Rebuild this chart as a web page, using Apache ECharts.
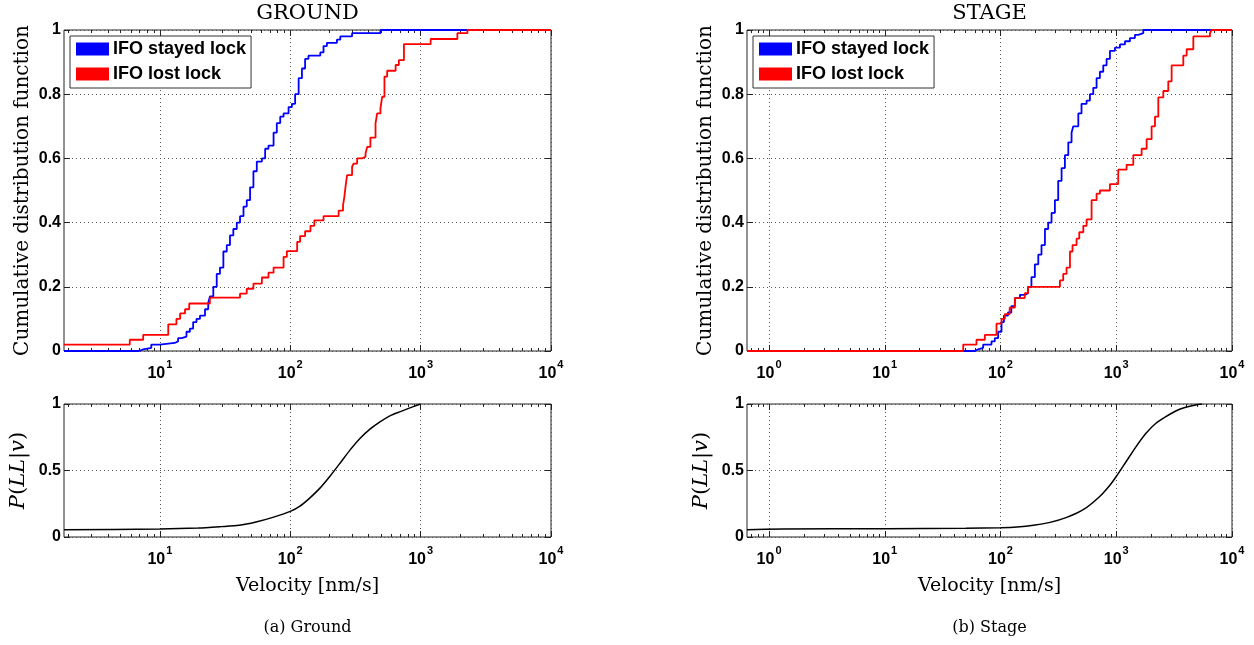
<!DOCTYPE html>
<html>
<head>
<meta charset="utf-8">
<script src="https://cdn.jsdelivr.net/npm/echarts@6/dist/echarts.min.js"></script>
<style>
html,body{margin:0;padding:0;background:#fff;}
#c{width:1254px;height:645px;}
</style>
</head>
<body>
<div id="c"></div>
<script>
// ---------------- data ----------------
const groundStayV = [6.9, 7.45, 8.6, 10, 13, 13.8, 14.7, 16, 17, 18, 19.1, 20.3, 22.2, 23.5, 24.2, 25.7, 27.3, 28.9, 30.7, 32.6, 34.5, 36.6, 38.9, 41.2, 43.8, 46.4, 49.2, 52.2, 55.4, 60.6, 64.2, 68.1, 74.5, 78.9, 83.8, 88.9, 97.1, 103, 109, 116, 123, 130, 138, 170, 180, 191, 228, 242, 298, 492];
const groundStayP = [0.005, 0.01, 0.02, 0.025, 0.03, 0.04, 0.045, 0.06, 0.07, 0.09, 0.10, 0.11, 0.13, 0.15, 0.17, 0.20, 0.24, 0.26, 0.31, 0.33, 0.36, 0.38, 0.40, 0.42, 0.45, 0.47, 0.51, 0.56, 0.59, 0.60, 0.63, 0.64, 0.68, 0.71, 0.73, 0.74, 0.76, 0.77, 0.80, 0.85, 0.88, 0.91, 0.92, 0.93, 0.95, 0.96, 0.97, 0.98, 0.99, 1.0];

const groundLostStart = 0.02;
const groundLostV = [5.88, 7.45, 11.6, 13.4, 14.3, 15.6, 16.8, 24.2, 41.2, 46.4, 52.2, 60.6, 68.1, 74.5, 88.9, 94.2, 113, 119, 130, 143, 153, 180, 235, 254, 260, 267, 273, 298, 307, 326, 356, 378, 389, 412, 451, 464, 492, 507, 528, 554, 643, 681, 745, 1194, 1914, 2286];
const groundLostP = [0.035, 0.05, 0.083, 0.10, 0.117, 0.13, 0.148, 0.166, 0.179, 0.194, 0.21, 0.229, 0.244, 0.26, 0.293, 0.311, 0.34, 0.358, 0.373, 0.39, 0.407, 0.42, 0.437, 0.454, 0.48, 0.52, 0.548, 0.574, 0.584, 0.60, 0.605, 0.615, 0.636, 0.665, 0.709, 0.74, 0.756, 0.792, 0.855, 0.873, 0.891, 0.906, 0.956, 0.972, 0.99, 1.0];

const stageStayV = [60, 64, 70.8, 83.6, 89.3, 95.4, 102, 107, 116, 124, 133, 147, 162, 173, 185, 198, 212, 226, 242, 258, 276, 295, 315, 337, 360, 385, 411, 425, 470, 501, 554, 592, 633, 676, 722, 772, 825, 882, 974, 1076, 1189, 1313, 1450, 1549, 1711];
const stageStayP = [0.005, 0.01, 0.02, 0.03, 0.04, 0.06, 0.09, 0.11, 0.12, 0.14, 0.165, 0.175, 0.18, 0.2, 0.23, 0.27, 0.3, 0.33, 0.38, 0.4, 0.43, 0.47, 0.53, 0.57, 0.61, 0.65, 0.68, 0.70, 0.74, 0.77, 0.78, 0.80, 0.82, 0.85, 0.87, 0.89, 0.91, 0.935, 0.945, 0.955, 0.965, 0.975, 0.985, 0.99, 1.0];

const stageLostV = [47.6, 62, 73.2, 92.3, 102, 109, 120, 133, 162, 173, 326, 348, 372, 398, 419, 454, 479, 519, 554, 612, 676, 722, 882, 1040, 1228, 1403, 1656, 1830, 2020, 2160, 2308, 2549, 2815, 3009, 3795, 4056, 4632, 6451, 6670];
const stageLostP = [0.02, 0.035, 0.05, 0.085, 0.1, 0.115, 0.135, 0.165, 0.18, 0.2, 0.22, 0.24, 0.26, 0.31, 0.33, 0.35, 0.37, 0.39, 0.41, 0.47, 0.49, 0.50, 0.52, 0.565, 0.58, 0.61, 0.63, 0.66, 0.70, 0.73, 0.79, 0.81, 0.84, 0.89, 0.92, 0.94, 0.98, 0.99, 1.0];

const groundPV = [1.84, 10, 19.7, 29.6, 40.5, 54.6, 73.5, 100, 118, 141, 169, 201, 241, 288, 344, 411, 491, 586, 700, 837, 1000];
const groundPP = [0.055, 0.06, 0.0675, 0.078, 0.0875, 0.1125, 0.1475, 0.1925, 0.23, 0.2925, 0.3675, 0.455, 0.555, 0.655, 0.7425, 0.8125, 0.8675, 0.9125, 0.9425, 0.9725, 1.0];

const stagePV = [0.645, 1.31, 10, 50, 100, 139, 193, 268, 373, 518, 720, 877, 1000, 1218, 1484, 1807, 2202, 2683, 3268, 3981, 4850, 5530];
const stagePP = [0.055, 0.06, 0.062, 0.066, 0.07, 0.075, 0.0875, 0.11, 0.1475, 0.205, 0.305, 0.3875, 0.455, 0.5675, 0.68, 0.78, 0.855, 0.905, 0.9475, 0.975, 0.9925, 1.0];

const groundDecades = [10, 100, 1000, 10000];
const stageDecades = [1, 10, 100, 1000, 10000];
const cdfYTicks = [0, 0.2, 0.4, 0.6, 0.8, 1];
const pYTicks = [0, 0.5, 1];

const seriesNames = ['IFO stayed lock', 'IFO lost lock'];
const titles = ['GROUND', 'STAGE'];
const captions = ['(a) Ground', '(b) Stage'];
const xName = 'Velocity [nm/s]';
const cdfName = 'Cumulative distribution function';

// ---------------- layout / style ----------------
const groundMin = 1.84, stageMin = 0.645, xMax = 10000;
const SERIF = '"DejaVu Serif", "Liberation Serif", serif';
const SANS = '"Liberation Sans", Arial, sans-serif';
const AX = '#222';

const grids = [
  {left: 64, top: 30, width: 487, height: 321},
  {left: 747, top: 30, width: 485, height: 321},
  {left: 64, top: 404, width: 487, height: 133},
  {left: 747, top: 404, width: 485, height: 133}
];
grids.forEach(g => { g.show = true; g.borderColor = AX; g.borderWidth = 1; g.backgroundColor = '#fff'; });

function minorTicks(min, max) {
  const out = [];
  for (let d = Math.floor(Math.log10(min)); d <= 4; d++) {
    for (let k = 2; k <= 9; k++) {
      const v = k * Math.pow(10, d);
      if (v > min && v < max) out.push(v);
    }
  }
  return out;
}

const labelRich = {
  b: {fontFamily: SANS, fontWeight: 'bold', fontSize: 16, color: '#000', padding: [7, 0, 0, 0]},
  s: {fontFamily: SANS, fontWeight: 'bold', fontSize: 11, color: '#000', verticalAlign: 'top', padding: [0, 0, 0, 1]}
};
function decLabel(v) {
  return '{b|10}{s|' + Math.round(Math.log10(v)) + '}';
}

const xAxes = [];
const yAxes = [];
function addX(gi, min, decades, withName) {
  const minors = minorTicks(min, xMax);
  const base = {type: 'log', logBase: 10, gridIndex: gi, min: min, max: xMax};
  const mainIdx = xAxes.length;
  xAxes.push(Object.assign({}, base, {
    position: 'bottom',
    axisLine: {show: false, onZero: false},
    axisTick: {show: true, inside: true, length: 6, customValues: decades, lineStyle: {color: AX}},
    axisLabel: {show: true, customValues: decades, formatter: decLabel, rich: labelRich, margin: 8, showMinLabel: true, showMaxLabel: true},
    splitLine: {show: true, lineStyle: {color: '#555', type: [1, 3], width: 1}},
    name: withName ? xName : '',
    nameLocation: 'middle',
    nameGap: 40,
    nameTextStyle: {fontFamily: SERIF, fontSize: 19, color: '#000'}
  }));
  xAxes.push(Object.assign({}, base, {
    position: 'bottom',
    axisLine: {show: false, onZero: false},
    axisTick: {show: true, inside: true, length: 3, customValues: minors, lineStyle: {color: AX}},
    axisLabel: {show: false},
    splitLine: {show: false}
  }));
  xAxes.push(Object.assign({}, base, {
    position: 'top',
    axisLine: {show: false, onZero: false},
    axisTick: {show: true, inside: true, length: 6, customValues: decades, lineStyle: {color: AX}},
    axisLabel: {show: false},
    splitLine: {show: false}
  }));
  xAxes.push(Object.assign({}, base, {
    position: 'top',
    axisLine: {show: false, onZero: false},
    axisTick: {show: true, inside: true, length: 3, customValues: minors, lineStyle: {color: AX}},
    axisLabel: {show: false},
    splitLine: {show: false}
  }));
  return mainIdx;
}
function addY(gi, ticks, name, nameGap, nameSize) {
  const mainIdx = yAxes.length;
  const interval = ticks[1] - ticks[0];
  const base = {type: 'value', gridIndex: gi, min: ticks[0], max: ticks[ticks.length - 1], interval: interval};
  yAxes.push(Object.assign({}, base, {
    position: 'left',
    axisLine: {show: false, onZero: false},
    axisTick: {show: true, inside: true, length: 6, lineStyle: {color: AX}},
    axisLabel: {show: true, fontFamily: SANS, fontWeight: 'bold', fontSize: 16, color: '#000', margin: 3},
    splitLine: {show: true, lineStyle: {color: '#555', type: [1, 3], width: 1}},
    name: name,
    nameLocation: 'middle',
    nameGap: nameGap,
    nameRotate: 90,
    nameTextStyle: {fontFamily: SERIF, fontSize: nameSize, color: '#000', rich: {
      i: {fontFamily: SERIF, fontStyle: 'italic', fontSize: nameSize, color: '#000'},
      r: {fontFamily: SERIF, fontSize: nameSize, color: '#000'}
    }}
  }));
  yAxes.push(Object.assign({}, base, {
    position: 'right',
    axisLine: {show: false, onZero: false},
    axisTick: {show: true, inside: true, length: 6, lineStyle: {color: AX}},
    axisLabel: {show: false},
    splitLine: {show: false}
  }));
  return mainIdx;
}

const pName = '{i|P}{r|(}{i|LL}{r||}{i|v}{r|)}';
const x0 = addX(0, groundMin, groundDecades, false);
const y0 = addY(0, cdfYTicks, cdfName, 31, 20);
const x1 = addX(1, stageMin, stageDecades, false);
const y1 = addY(1, cdfYTicks, cdfName, 31, 20);
const x2 = addX(2, groundMin, groundDecades, true);
const y2 = addY(2, pYTicks, pName, 35, 21);
const x3 = addX(3, stageMin, stageDecades, true);
const y3 = addY(3, pYTicks, pName, 35, 21);

function zip(v, p) { return v.map((x, i) => [x, p[i]]); }
function cdf(startX, startY, v, p) {
  return [[startX, startY]].concat(zip(v, p)).concat([[xMax, 1]]);
}
function stepSeries(name, color, xi, yi, data) {
  return {type: 'line', name: name, xAxisIndex: xi, yAxisIndex: yi, step: 'end', data: data,
    showSymbol: false, symbol: 'none', color: color, itemStyle: {color: color},
    lineStyle: {color: color, width: 1.8}, clip: true, z: 3};
}
function curveSeries(xi, yi, data) {
  return {type: 'line', xAxisIndex: xi, yAxisIndex: yi, data: data, smooth: 0.2,
    showSymbol: false, symbol: 'none', lineStyle: {color: '#000', width: 1.5}, itemStyle: {color: '#000'}, clip: true, z: 3};
}

const series = [
  stepSeries(seriesNames[0], '#0000ff', x0, y0, cdf(groundMin, 0, groundStayV, groundStayP)),
  stepSeries(seriesNames[1], '#ff0000', x0, y0, cdf(groundMin, groundLostStart, groundLostV, groundLostP)),
  stepSeries(seriesNames[0], '#0000ff', x1, y1, cdf(stageMin, 0, stageStayV, stageStayP)),
  stepSeries(seriesNames[1], '#ff0000', x1, y1, cdf(stageMin, 0, stageLostV, stageLostP)),
  curveSeries(x2, y2, zip(groundPV, groundPP)),
  curveSeries(x3, y3, zip(stagePV, stagePP))
];

function legendAt(left) {
  return {
    left: left, top: 36, orient: 'vertical', icon: 'rect', itemWidth: 33, itemHeight: 13, itemGap: 7,
    padding: [4, 5, 5, 6], backgroundColor: '#fff', borderColor: '#333', borderWidth: 1,
    data: seriesNames, selectedMode: false,
    textStyle: {fontFamily: SANS, fontWeight: 'bold', fontSize: 18, color: '#000', padding: [0, 0, 0, -1]}
  };
}

const textEls = [];
function addText(x, y, t, size) {
  textEls.push({type: 'text', x: x, y: y, style: {text: t, fontFamily: SERIF, fontSize: size, fill: '#000', align: 'center', verticalAlign: 'middle'}});
}
addText(grids[0].left + grids[0].width / 2, 14, titles[0], 21);
addText(grids[1].left + grids[1].width / 2, 14, titles[1], 21);
addText(grids[0].left + grids[0].width / 2, 628, captions[0], 16);
addText(grids[1].left + grids[1].width / 2, 628, captions[1], 16);

const chart = echarts.init(document.getElementById('c'), null, {renderer: 'canvas'});
chart.setOption({
  animation: false,
  backgroundColor: '#fff',
  grid: grids,
  xAxis: xAxes,
  yAxis: yAxes,
  legend: [legendAt(70), legendAt(753)],
  series: series,
  graphic: textEls
});
</script>
</body>
</html>
